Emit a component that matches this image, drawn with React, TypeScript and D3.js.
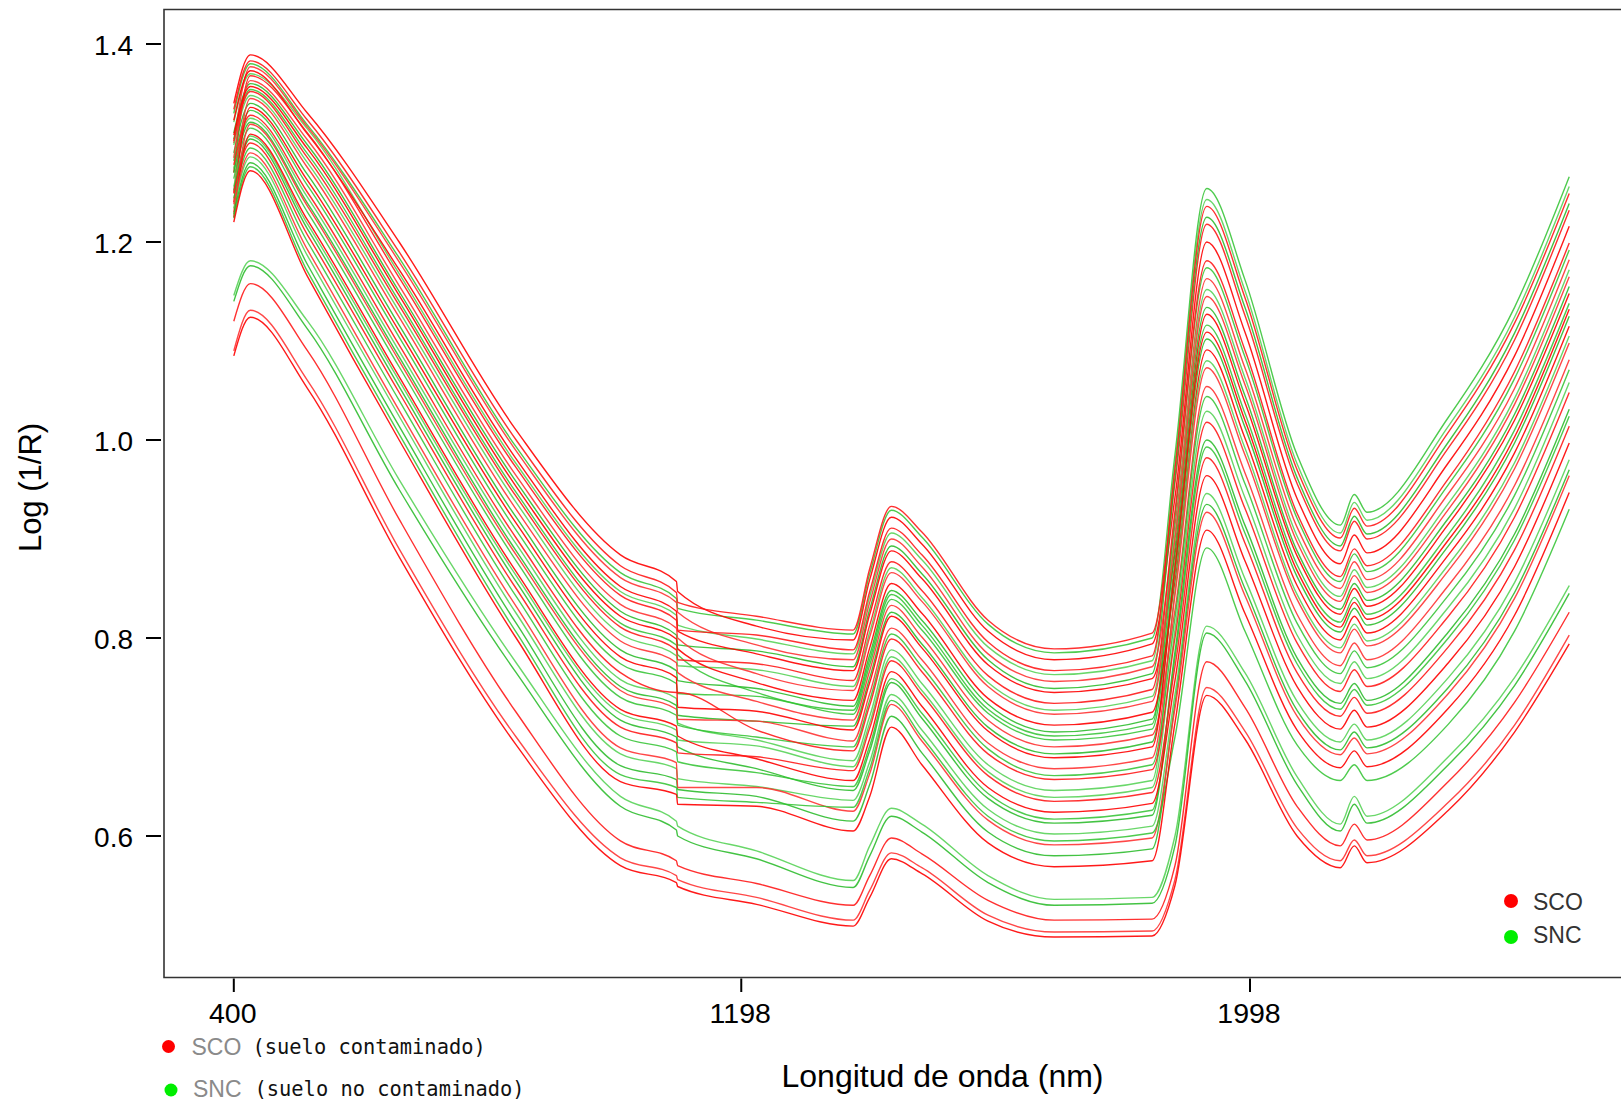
import React from 'react';
import * as d3 from 'd3';

const WAVELENGTHS = [400, 426, 516, 660, 844, 1008, 1096, 1098, 1222, 1374, 1400, 1434, 1482, 1586, 1690, 1844, 1880, 1930, 1990, 2072, 2140, 2162, 2182, 2310, 2414, 2500];

// SCO (suelo contaminado) – red spectra, Log(1/R)
const SCO_SPECTRA: number[][] = [
  [1.340, 1.389, 1.330, 1.200, 1.010, 0.884, 0.857, 0.847, 0.812, 0.798, 0.859, 0.922, 0.895, 0.807, 0.778, 0.794, 0.942, 1.200, 1.109, 0.941, 0.875, 0.904, 0.886, 0.977, 1.085, 1.216],
  [1.334, 1.383, 1.323, 1.190, 1.000, 0.873, 0.846, 0.836, 0.822, 0.808, 0.870, 0.933, 0.907, 0.818, 0.789, 0.805, 0.957, 1.218, 1.126, 0.956, 0.888, 0.918, 0.900, 0.992, 1.101, 1.232],
  [1.300, 1.377, 1.316, 1.180, 0.989, 0.861, 0.836, 0.826, 0.793, 0.778, 0.836, 0.900, 0.872, 0.784, 0.756, 0.771, 0.914, 1.163, 1.073, 0.912, 0.850, 0.877, 0.859, 0.946, 1.052, 1.182],
  [1.323, 1.373, 1.309, 1.172, 0.981, 0.852, 0.827, 0.807, 0.784, 0.767, 0.824, 0.888, 0.860, 0.773, 0.745, 0.759, 0.885, 1.127, 1.038, 0.883, 0.824, 0.850, 0.832, 0.915, 1.020, 1.148],
  [1.270, 1.368, 1.310, 1.164, 0.972, 0.843, 0.818, 0.808, 0.803, 0.788, 0.847, 0.911, 0.884, 0.796, 0.767, 0.782, 0.971, 1.236, 1.144, 0.970, 0.901, 0.931, 0.913, 1.008, 1.118, 1.249],
  [1.285, 1.363, 1.303, 1.156, 0.964, 0.834, 0.810, 0.800, 0.764, 0.747, 0.801, 0.866, 0.837, 0.751, 0.723, 0.736, 0.900, 1.145, 1.056, 0.897, 0.837, 0.863, 0.846, 0.930, 1.036, 1.165],
  [1.308, 1.357, 1.294, 1.146, 0.953, 0.822, 0.799, 0.789, 0.755, 0.737, 0.790, 0.855, 0.825, 0.739, 0.712, 0.725, 0.857, 1.091, 1.002, 0.853, 0.798, 0.822, 0.805, 0.884, 0.987, 1.115],
  [1.302, 1.352, 1.285, 1.136, 0.943, 0.811, 0.788, 0.778, 0.774, 0.757, 0.813, 0.877, 0.848, 0.762, 0.734, 0.748, 0.928, 1.181, 1.091, 0.926, 0.862, 0.890, 0.873, 0.961, 1.069, 1.199],
  [1.250, 1.345, 1.275, 1.124, 0.930, 0.797, 0.775, 0.765, 0.736, 0.717, 0.767, 0.833, 0.801, 0.717, 0.690, 0.702, 0.828, 1.054, 0.967, 0.824, 0.772, 0.795, 0.778, 0.853, 0.954, 1.081],
  [1.240, 1.336, 1.262, 1.110, 0.916, 0.781, 0.760, 0.730, 0.726, 0.707, 0.755, 0.822, 0.790, 0.706, 0.679, 0.690, 0.871, 1.109, 1.020, 0.868, 0.811, 0.836, 0.819, 0.899, 1.003, 1.132],
  [1.278, 1.328, 1.250, 1.096, 0.901, 0.765, 0.745, 0.745, 0.707, 0.686, 0.732, 0.799, 0.766, 0.683, 0.657, 0.667, 0.800, 1.018, 0.931, 0.795, 0.746, 0.768, 0.751, 0.822, 0.922, 1.048],
  [1.230, 1.319, 1.236, 1.080, 0.884, 0.747, 0.728, 0.718, 0.716, 0.696, 0.744, 0.810, 0.778, 0.694, 0.668, 0.679, 0.843, 1.073, 0.985, 0.839, 0.785, 0.809, 0.792, 0.868, 0.971, 1.098],
  [1.225, 1.309, 1.222, 1.064, 0.867, 0.728, 0.711, 0.701, 0.678, 0.656, 0.698, 0.766, 0.731, 0.649, 0.624, 0.633, 0.757, 0.964, 0.878, 0.751, 0.708, 0.727, 0.710, 0.775, 0.872, 0.997],
  [1.249, 1.300, 1.207, 1.048, 0.850, 0.710, 0.694, 0.684, 0.680, 0.666, 0.709, 0.777, 0.743, 0.661, 0.635, 0.644, 0.771, 0.982, 0.896, 0.765, 0.721, 0.740, 0.724, 0.791, 0.889, 1.014],
  [1.238, 1.290, 1.192, 1.030, 0.832, 0.689, 0.674, 0.649, 0.649, 0.625, 0.663, 0.733, 0.696, 0.616, 0.591, 0.598, 0.729, 0.927, 0.843, 0.721, 0.682, 0.699, 0.683, 0.744, 0.840, 0.964],
  [1.220, 1.272, 1.165, 1.000, 0.800, 0.655, 0.642, 0.632, 0.630, 0.605, 0.640, 0.710, 0.672, 0.593, 0.569, 0.575, 0.714, 0.909, 0.825, 0.707, 0.669, 0.686, 0.670, 0.729, 0.823, 0.947],
  [1.120, 1.158, 1.090, 0.920, 0.725, 0.595, 0.575, 0.570, 0.552, 0.530, 0.560, 0.598, 0.582, 0.535, 0.515, 0.516, 0.570, 0.776, 0.730, 0.630, 0.590, 0.612, 0.596, 0.655, 0.735, 0.826],
  [1.090, 1.131, 1.060, 0.890, 0.700, 0.578, 0.560, 0.556, 0.538, 0.515, 0.545, 0.583, 0.568, 0.520, 0.503, 0.504, 0.556, 0.750, 0.706, 0.608, 0.575, 0.596, 0.580, 0.634, 0.712, 0.803],
  [1.085, 1.124, 1.052, 0.882, 0.692, 0.570, 0.553, 0.549, 0.531, 0.509, 0.538, 0.577, 0.562, 0.514, 0.498, 0.499, 0.550, 0.742, 0.698, 0.600, 0.568, 0.590, 0.573, 0.626, 0.705, 0.794],
];

// SNC (suelo no contaminado) – green spectra, Log(1/R)
const SNC_SPECTRA: number[][] = [
  [1.330, 1.380, 1.318, 1.184, 0.993, 0.866, 0.840, 0.830, 0.818, 0.804, 0.865, 0.929, 0.902, 0.814, 0.785, 0.800, 0.985, 1.254, 1.162, 0.985, 0.914, 0.945, 0.927, 1.023, 1.134, 1.266],
  [1.321, 1.370, 1.314, 1.168, 0.976, 0.847, 0.823, 0.813, 0.799, 0.784, 0.842, 0.906, 0.879, 0.791, 0.763, 0.777, 0.976, 1.243, 1.151, 0.976, 0.906, 0.937, 0.919, 1.014, 1.124, 1.256],
  [1.310, 1.360, 1.298, 1.150, 0.958, 0.827, 0.803, 0.793, 0.787, 0.771, 0.829, 0.893, 0.865, 0.778, 0.749, 0.764, 0.962, 1.225, 1.134, 0.962, 0.893, 0.923, 0.905, 0.998, 1.108, 1.239],
  [1.304, 1.354, 1.289, 1.140, 0.947, 0.815, 0.793, 0.783, 0.745, 0.727, 0.778, 0.844, 0.813, 0.728, 0.701, 0.713, 0.922, 1.174, 1.084, 0.921, 0.857, 0.885, 0.867, 0.955, 1.062, 1.192],
  [1.298, 1.348, 1.280, 1.130, 0.937, 0.804, 0.782, 0.772, 0.768, 0.751, 0.806, 0.871, 0.841, 0.755, 0.727, 0.741, 0.905, 1.152, 1.063, 0.903, 0.842, 0.869, 0.851, 0.936, 1.042, 1.172],
  [1.290, 1.340, 1.268, 1.116, 0.922, 0.788, 0.767, 0.757, 0.749, 0.731, 0.783, 0.848, 0.818, 0.733, 0.705, 0.718, 0.891, 1.134, 1.045, 0.888, 0.829, 0.855, 0.838, 0.921, 1.026, 1.155],
  [1.282, 1.333, 1.257, 1.104, 0.909, 0.774, 0.754, 0.744, 0.741, 0.723, 0.773, 0.839, 0.808, 0.724, 0.697, 0.708, 0.877, 1.116, 1.027, 0.874, 0.816, 0.841, 0.824, 0.905, 1.010, 1.138],
  [1.274, 1.325, 1.245, 1.090, 0.895, 0.758, 0.739, 0.714, 0.697, 0.676, 0.721, 0.788, 0.754, 0.672, 0.646, 0.656, 0.848, 1.080, 0.992, 0.844, 0.790, 0.814, 0.797, 0.874, 0.977, 1.105],
  [1.270, 1.321, 1.239, 1.084, 0.888, 0.751, 0.732, 0.722, 0.716, 0.711, 0.760, 0.826, 0.794, 0.710, 0.683, 0.695, 0.865, 1.102, 1.013, 0.862, 0.806, 0.830, 0.813, 0.893, 0.997, 1.125],
  [1.264, 1.315, 1.230, 1.074, 0.878, 0.740, 0.722, 0.712, 0.700, 0.690, 0.737, 0.804, 0.771, 0.688, 0.661, 0.672, 0.820, 1.044, 0.956, 0.815, 0.764, 0.787, 0.770, 0.843, 0.944, 1.071],
  [1.256, 1.307, 1.218, 1.060, 0.863, 0.724, 0.707, 0.697, 0.691, 0.670, 0.714, 0.781, 0.747, 0.665, 0.639, 0.649, 0.808, 1.029, 0.942, 0.803, 0.754, 0.776, 0.759, 0.831, 0.931, 1.058],
  [1.252, 1.304, 1.213, 1.054, 0.857, 0.717, 0.700, 0.690, 0.668, 0.646, 0.686, 0.755, 0.719, 0.638, 0.613, 0.621, 0.786, 1.000, 0.914, 0.780, 0.734, 0.754, 0.737, 0.806, 0.905, 1.031],
  [1.244, 1.295, 1.200, 1.040, 0.842, 0.701, 0.685, 0.675, 0.664, 0.650, 0.691, 0.759, 0.724, 0.643, 0.617, 0.626, 0.780, 0.993, 0.906, 0.774, 0.728, 0.748, 0.732, 0.800, 0.899, 1.024],
  [1.234, 1.286, 1.186, 1.024, 0.825, 0.683, 0.668, 0.658, 0.650, 0.636, 0.675, 0.743, 0.707, 0.627, 0.602, 0.610, 0.743, 0.946, 0.860, 0.736, 0.695, 0.713, 0.697, 0.760, 0.856, 0.980],
  [1.228, 1.280, 1.177, 1.014, 0.815, 0.671, 0.657, 0.647, 0.640, 0.615, 0.652, 0.721, 0.684, 0.604, 0.580, 0.587, 0.734, 0.935, 0.850, 0.727, 0.687, 0.705, 0.689, 0.750, 0.846, 0.970],
  [1.224, 1.276, 1.170, 1.006, 0.806, 0.662, 0.649, 0.639, 0.634, 0.629, 0.668, 0.737, 0.700, 0.620, 0.595, 0.603, 0.700, 0.891, 0.807, 0.692, 0.656, 0.672, 0.656, 0.713, 0.807, 0.930],
  [1.146, 1.181, 1.120, 0.960, 0.775, 0.640, 0.615, 0.610, 0.585, 0.555, 0.590, 0.628, 0.612, 0.560, 0.536, 0.538, 0.600, 0.812, 0.765, 0.660, 0.612, 0.640, 0.620, 0.680, 0.760, 0.853],
  [1.140, 1.176, 1.112, 0.950, 0.765, 0.630, 0.606, 0.600, 0.577, 0.548, 0.580, 0.620, 0.604, 0.553, 0.530, 0.532, 0.590, 0.805, 0.757, 0.652, 0.605, 0.632, 0.613, 0.672, 0.752, 0.845],
];

const Y_TICKS = [0.6, 0.8, 1.0, 1.2, 1.4];
const X_TICKS = [400, 1198, 1998];
const X_TITLE = 'Longitud de onda (nm)';
const Y_TITLE = 'Log (1/R)';
const LEGEND_CODES = ['SCO', 'SNC'];
const LEGEND_DESCRIPTIONS = ['(suelo contaminado)', '(suelo no contaminado)'];

const RED_SHADES = ['#ff0000', '#ff1a1a', '#ff3333'];
const GREEN_SHADES = ['#2fc22f', '#4fd04f', '#22b822'];
const SANS = '"Liberation Sans", Arial, Helvetica, sans-serif';
const MONO = '"DejaVu Sans Mono", monospace';

export default function App() {
  const x = d3.scaleLinear().domain([400, 1998]).range([233.8, 1250]);
  const y = d3.scaleLinear().domain([0.6, 1.4]).range([836, 44]);
  const line = d3
    .line<number>()
    .x((_, i) => x(WAVELENGTHS[i]))
    .y((d) => y(d))
    .curve(d3.curveMonotoneX);

  const frameLeft = 164;
  const frameTop = 9.5;
  const frameBottom = 977.5;

  const n = Math.max(SCO_SPECTRA.length, SNC_SPECTRA.length);
  const paths: React.ReactNode[] = [];
  for (let i = 0; i < n; i++) {
    if (i < SNC_SPECTRA.length) {
      paths.push(
        <path key={'g' + i} d={line(SNC_SPECTRA[i]) || ''} fill="none"
          stroke={GREEN_SHADES[i % GREEN_SHADES.length]} strokeWidth={1.4} strokeOpacity={0.85} />
      );
    }
    if (i < SCO_SPECTRA.length) {
      paths.push(
        <path key={'r' + i} d={line(SCO_SPECTRA[i]) || ''} fill="none"
          stroke={RED_SHADES[i % RED_SHADES.length]} strokeWidth={1.4} strokeOpacity={0.9} />
      );
    }
  }

  return (
    <svg width={1621} height={1103} style={{ position: 'absolute', left: 0, top: 0, background: '#fff' }}>
      <rect x={0} y={0} width={1621} height={1103} fill="#fff" />
      {paths}
      {/* frame */}
      <path d={`M1650,${frameTop} H${frameLeft} V${frameBottom} H1650`} fill="none" stroke="#333" strokeWidth={1.6} />
      {/* y axis */}
      {Y_TICKS.map((t) => (
        <g key={'yt' + t}>
          <line x1={146} x2={161} y1={y(t)} y2={y(t)} stroke="#000" strokeWidth={2} />
          <text x={133} y={y(t) + 11} textAnchor="end" fontFamily={SANS} fontSize={28} fill="#000">
            {t.toFixed(1)}
          </text>
        </g>
      ))}
      {/* x axis */}
      {X_TICKS.map((t) => (
        <g key={'xt' + t}>
          <line x1={x(t)} x2={x(t)} y1={978.5} y2={992} stroke="#000" strokeWidth={2} />
          <text x={x(t) - 1} y={1023} textAnchor="middle" fontFamily={SANS} fontSize={28.5} fill="#000">
            {String(t)}
          </text>
        </g>
      ))}
      <text x={942.5} y={1087} textAnchor="middle" fontFamily={SANS} fontSize={32} fill="#000">
        {X_TITLE}
      </text>
      <text transform="translate(41,487.5) rotate(-90)" textAnchor="middle" fontFamily={SANS} fontSize={31} fill="#000">
        {Y_TITLE}
      </text>
      {/* inner legend */}
      <circle cx={1511} cy={901} r={7} fill="#ff0000" />
      <text x={1533} y={910} fontFamily={SANS} fontSize={23} fill="#333">{LEGEND_CODES[0]}</text>
      <circle cx={1511} cy={937} r={7} fill="#00ee00" />
      <text x={1533} y={943} fontFamily={SANS} fontSize={23} fill="#333">{LEGEND_CODES[1]}</text>
      {/* bottom legend */}
      <circle cx={168.5} cy={1046.5} r={6.5} fill="#ff0000" />
      <text x={191.5} y={1055} fontFamily={SANS} fontSize={23} fill="#8a8a8a">{LEGEND_CODES[0]}</text>
      <text x={252.5} y={1054} fontFamily={MONO} fontSize={20.4} fill="#111">
        {LEGEND_DESCRIPTIONS[0]}
      </text>
      <circle cx={171} cy={1090} r={6.5} fill="#00ee00" />
      <text x={193} y={1097} fontFamily={SANS} fontSize={23} fill="#8a8a8a">{LEGEND_CODES[1]}</text>
      <text x={254.5} y={1096} fontFamily={MONO} fontSize={20.4} fill="#111">
        {LEGEND_DESCRIPTIONS[1]}
      </text>
    </svg>
  );
}
